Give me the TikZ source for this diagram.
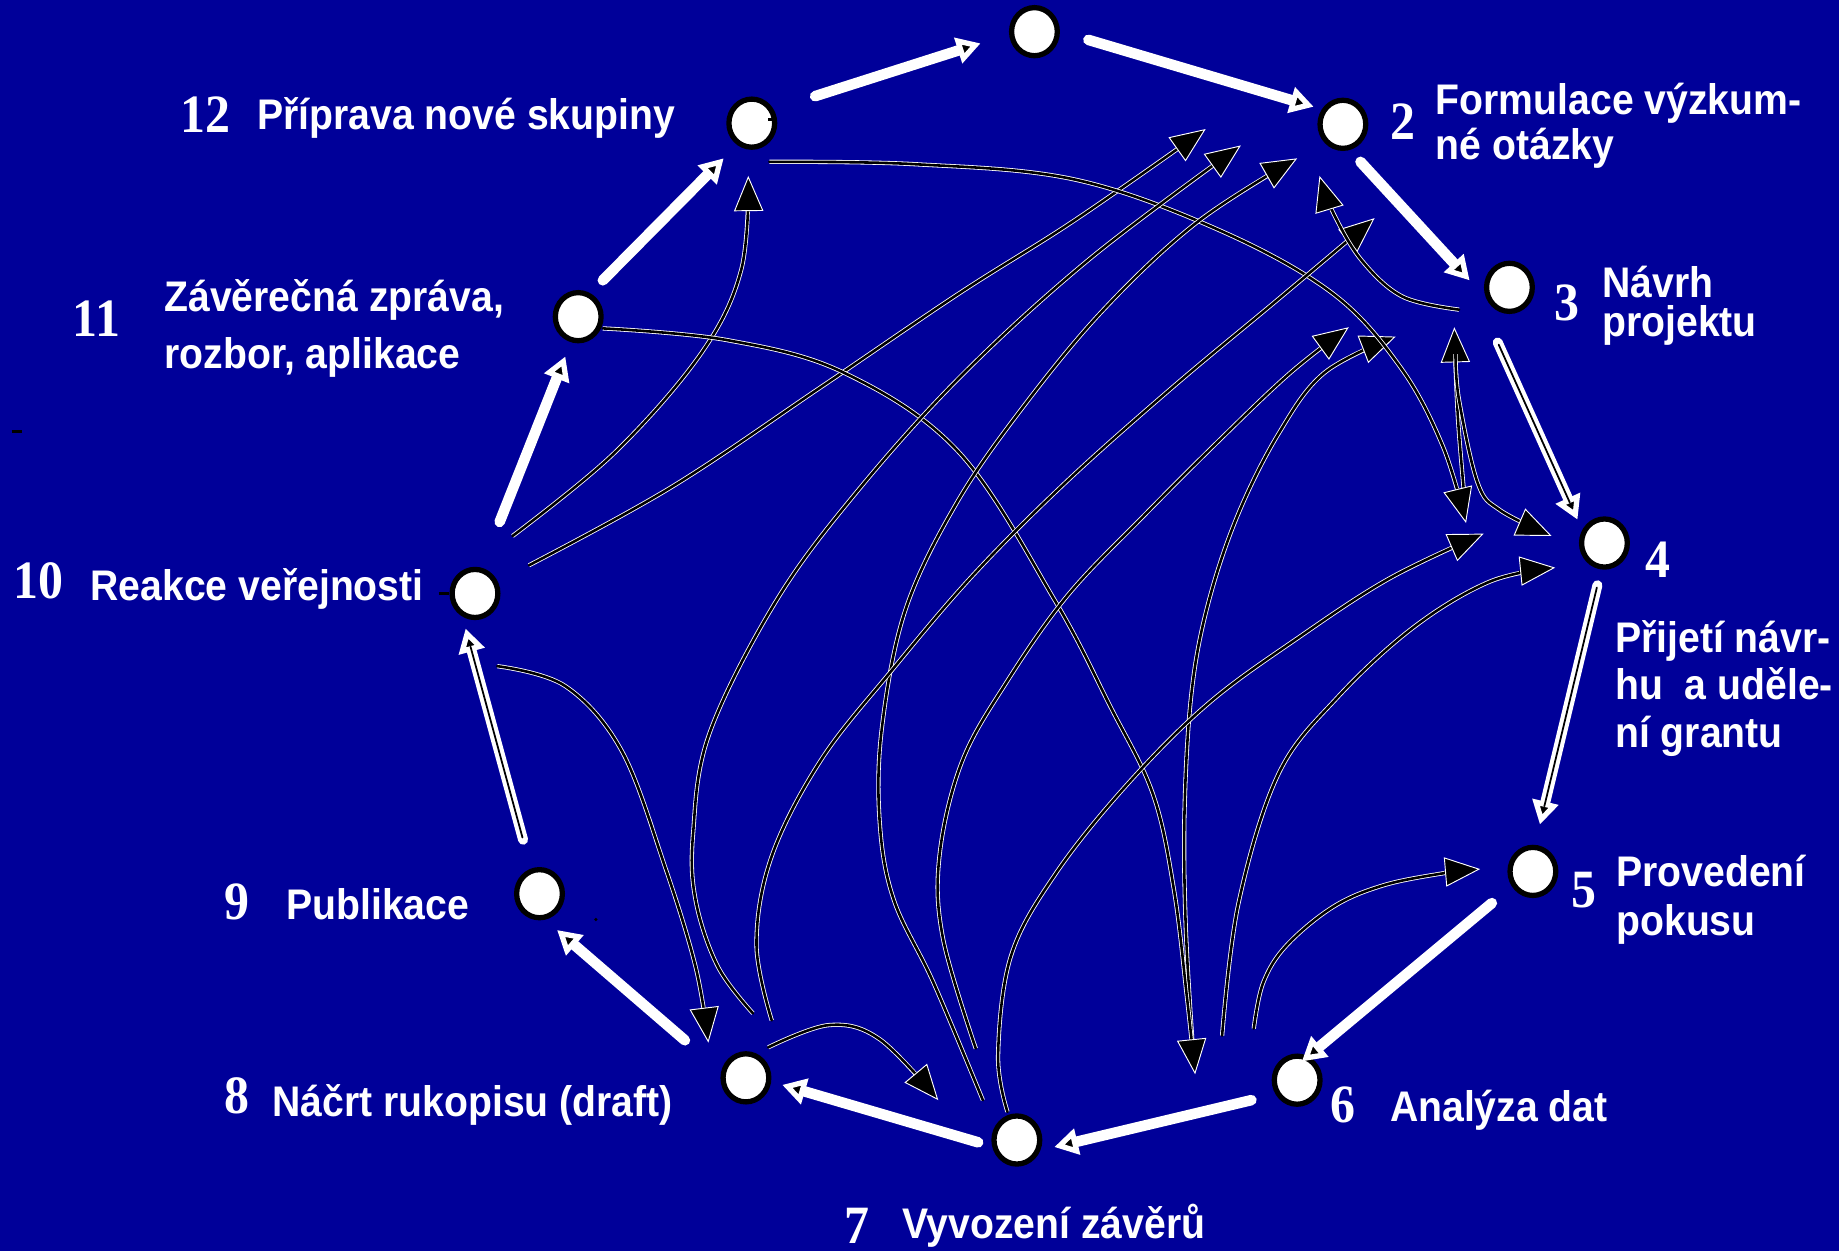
\documentclass[tikz,border=0pt]{standalone}
\usepackage{fontspec}
\newfontfamily\labfont{Liberation Sans}[FakeStretch=0.915]
\newfontfamily\numfont{Liberation Serif}[FakeStretch=0.925]
\usetikzlibrary{arrows.meta,calc,shapes.geometric}
\definecolor{bgblue}{RGB}{0,0,153}
\tikzset{
  stage/.style={ellipse, draw=black, fill=white, line width=4.5pt, minimum width=39pt, minimum height=41pt, inner sep=0pt},
  lab/.style={text=white, inner sep=0pt, anchor=base west, align=left, font=\labfont\bfseries\fontsize{36.5}{38}\selectfont},
  num/.style={text=white, inner sep=0pt, anchor=base west, font=\numfont\bfseries\fontsize{46}{46}\selectfont},
  cyc/.style={draw=white, line width=9pt, line cap=round, -{Triangle[length=20pt,width=22pt,line width=4.5pt,fill=black]}},
  cycdbl/.style={cyc, line width=8.5pt, postaction={draw=black, line width=1.5pt, -, shorten >=16pt, shorten <=2pt}},
  fb/.style={draw=black, line width=2.2pt, line cap=round, preaction={draw=white, line width=3.6pt, -, shorten >=8pt}, -{Triangle[length=30pt,width=25pt,line width=0.8pt,fill=black,color=white]}},
  straymark/.style={draw=black, line width=2pt}
}
\begin{document}
\begin{tikzpicture}[x=1pt, y=-1pt]
\useasboundingbox (0,0) rectangle (1568,1067);
\fill[bgblue] (0,0) rectangle (1568,1067);

% stage nodes
\node[stage] (n1)  at (882,27)  {};
\node[stage] (n2)  at (1145,106) {};
\node[stage] (n3)  at (1287,245) {};
\node[stage] (n4)  at (1368,463) {};
\node[stage] (n5)  at (1307,743) {};
\node[stage] (n6)  at (1106,921) {};
\node[stage] (n7)  at (867,972) {};
\node[stage] (n8)  at (636,919) {};
\node[stage] (n9)  at (460,762) {};
\node[stage] (n10) at (405,506) {};
\node[stage] (n11) at (493,270) {};
\node[stage] (n12) at (641,105) {};

% labels (multi-line nodes: base = last line)
\node[num] (l12n) at (154,113) {12};
\node[lab] (l12) at (219,110) {Příprava nové skupiny};
\node[num] (l2n) at (1185,119) {2};
\node[lab] (l2) at (1224,136) {Formulace výzkum-\\né otázky};
\node[num] (l3n) at (1325,273) {3};
\node[lab, font=\labfont\bfseries\fontsize{36.5}{33}\selectfont] (l3) at (1366,287) {Návrh\\projektu};
\node[num] (l4n) at (1403,492) {4};
\node[lab, font=\labfont\bfseries\fontsize{36.5}{40.5}\selectfont] (l4) at (1377,637) {Přijetí návr-\\hu~~a uděle-\\ní grantu};
\node[num] (l5n) at (1340,774) {5};
\node[lab, font=\labfont\bfseries\fontsize{36.5}{42}\selectfont] (l5) at (1378,798) {Provedení\\pokusu};
\node[num] (l6n) at (1134,957) {6};
\node[lab] (l6) at (1185,956) {Analýza dat};
\node[num] (l7n) at (720,1060) {7};
\node[lab] (l7) at (769,1056) {Vyvození závěrů};
\node[num] (l8n) at (191,949) {8};
\node[lab] (l8) at (232,952) {Náčrt rukopisu (draft)};
\node[num] (l9n) at (191,784) {9};
\node[lab] (l9) at (244,784) {Publikace};
\node[num] (l10n) at (11,510) {10};
\node[lab] (l10) at (77,512) {Reakce veřejnosti};
\node[num] (l11n) at (62,287) {11};
\node[lab, font=\labfont\bfseries\fontsize{36.5}{48}\selectfont] (l11) at (140,314) {Závěrečná zpráva,\\rozbor, aplikace};

% feedback curves
\draw[fb] plot[smooth, tension=0.6] coordinates {($(n4)+(-119,-35)$) (1243,355) ($(n3)+(-47,34)$)};
\draw[fb] plot[smooth, tension=0.6] coordinates {($(n3)+(-46,57)$) (1244,341) (1260,412) (1279,435) ($(n4)+(-45,-6)$)};
\draw[fb] plot[smooth, tension=0.6] coordinates {($(n6)+(-89,-28)$) (1011,790) (1010,690) (1016,590) (1030,515) (1055,440) (1090,370) (1129,318) ($(n3)+(-97,42)$)};
\draw[fb] plot[smooth, tension=0.6] coordinates {($(n10)+(32,-49)$) (524,386) (598,301) (632,230) ($(n12)+(-3,45)$)};
\draw[fb] plot[smooth, tension=0.6] coordinates {($(n10)+(46,-24)$) (573,415) (700,330) (818,250) (916,188) ($(n2)+(-117,4)$)};
\draw[fb] plot[smooth, tension=0.6] coordinates {($(n10)+(19,62)$) (482,585) (530,640) (567,739) (593,824) ($(n8)+(-32,-30)$)};
\draw[fb] plot[smooth, tension=0.6] coordinates {($(n12)+(15,33)$) (780,140) (916,153) (1039,196) (1136,250) (1194,313) (1230,380) ($(n4)+(-118,-17)$)};
\draw[fb] plot[smooth, tension=0.6] coordinates {($(n11)+(21,10)$) (620,290) (720,318) (818,386) (900,513) (946,601) (983,677) (1001,759) (1012,850) ($(n6)+(-87,-5)$)};
\draw[fb] plot[smooth, tension=0.6] coordinates {($(n8)+(6,-55)$) (612,824) (593,767) (591,710) (605,625) (662,512) (730,420) (820,320) (930,220) ($(n2)+(-87,18)$)};
\draw[fb] plot[smooth, tension=0.6] coordinates {($(n7)+(-29,-34)$) (796,838) (762,767) (750,700) (752,620) (772,520) (815,430) (870,350) (940,265) (1020,190) ($(n2)+(-39,29)$)};
\draw[fb] plot[smooth, tension=0.6] coordinates {($(n8)+(22,-49)$) (645,805) (658,730) (700,648) (760,572) (830,490) (910,410) (1000,330) (1090,255) ($(n2)+(27,80)$)};
\draw[fb] plot[smooth, tension=0.6] coordinates {($(n7)+(-35,-78)$) (804,800) (801,730) (820,650) (858,582) (910,508) (975,440) (1040,375) (1100,318) ($(n3)+(-137,34)$)};
\draw[fb] plot[smooth, tension=0.6] coordinates {($(n6)+(-64,-38)$) (1056,770) (1090,660) (1140,595) (1205,535) (1270,496) ($(n4)+(-42,21)$)};
\draw[fb] plot[smooth, tension=0.6] coordinates {($(n6)+(-37,-44)$) (1077,838) (1097,806) (1137,773) (1179,755) (1228,745) ($(n5)+(-45,-2)$)};
\draw[fb] plot[smooth, tension=0.6] coordinates {($(n7)+(-8,-24)$) (851,900) (862,815) (900,745) (960,670) (1030,600) (1108,543) (1185,493) ($(n4)+(-103,-8)$)};
\draw[fb] plot[smooth, tension=0.6] coordinates {($(n8)+(19,-26)$) (707,874) (750,886) ($(n7)+(-67,-34)$)};
\draw[fb] plot[smooth, tension=0.6] coordinates {($(n3)+(-43,19)$) (1196,253) (1161,222) (1137,182) ($(n2)+(-20,44)$)};

% main cycle
\draw[cyc] ($(n12)+(54,-23)$) -- ($(n1)+(-46,10)$);
\draw[cyc] ($(n1)+(46,7)$) -- ($(n2)+(-25,-15)$);
\draw[cyc] ($(n2)+(15,32)$) -- ($(n3)+(-34,-6)$);
\draw[cycdbl] ($(n3)+(-10,47)$) -- ($(n4)+(-23,-20)$);
\draw[cycdbl] ($(n4)+(-6,36)$) -- ($(n5)+(6,-40)$);
\draw[cyc] ($(n5)+(-35,27)$) -- ($(n6)+(4,-16)$);
\draw[cyc] ($(n6)+(-39,17)$) -- ($(n7)+(32,6)$);
\draw[cyc] ($(n7)+(-33,2)$) -- ($(n8)+(31,6)$);
\draw[cyc] ($(n8)+(-52,-32)$) -- ($(n9)+(15,31)$);
\draw[cycdbl] ($(n9)+(-14,-46)$) -- ($(n10)+(-8,30)$);
\draw[cyc] ($(n10)+(21,-61)$) -- ($(n11)+(-11,34)$);
\draw[cyc] ($(n11)+(21,-31)$) -- ($(n12)+(-24,30)$);

% small stray marks
\draw[straymark] ($(n12)+(14,-3)$) -- ($(n12)+(21,-3)$);
\draw[straymark] ($(n10)+(-31,0)$) -- ($(n10)+(-22,0)$);
\fill[black] (508,784) circle (1.5);
\draw[straymark] (10,368) -- (19,368);
\end{tikzpicture}
\end{document}
